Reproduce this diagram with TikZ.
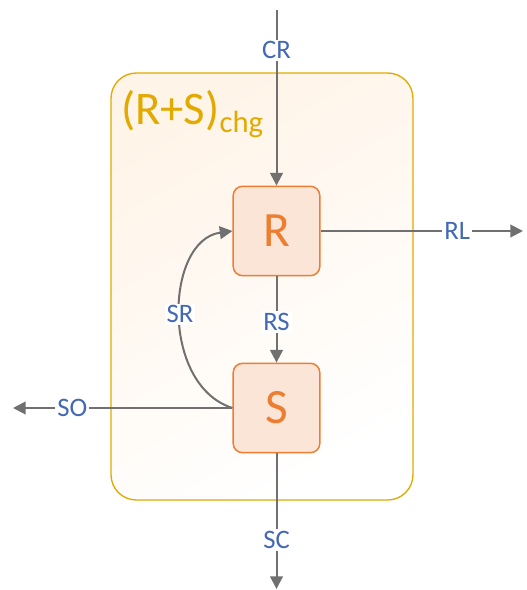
\documentclass[tikz,border=0pt]{standalone}
\usepackage{fontspec}
\setmainfont{Carlito}
\usetikzlibrary{arrows.meta}

\definecolor{flowgray}{RGB}{112,112,112}
\definecolor{flowblue}{RGB}{68,104,180}
\definecolor{poolgold}{RGB}{226,170,0}
\definecolor{poolfill}{RGB}{255,244,232}
\definecolor{stockline}{RGB}{237,125,49}
\definecolor{stockfill}{RGB}{251,229,214}

\begin{document}
\begin{tikzpicture}[x=0.75pt,y=-0.75pt,
  stock/.style={draw=stockline,fill=stockfill,line width=1.1pt,rounded corners=7pt,
    minimum width=65pt,minimum height=67pt,text=stockline,font=\fontsize{37}{40}\selectfont},
  flow/.style={draw=flowgray,line width=1.5pt,-{Triangle[length=9.5pt,width=9.5pt]}},
  lab/.style={fill=white,text=flowblue,inner sep=1.5pt,font=\fontsize{20}{22}\selectfont}]
  \useasboundingbox (0,0) rectangle (526,590);
  % charge pool around both stocks
  \draw[poolgold,line width=1pt,rounded corners=19pt,top color=poolfill,bottom color=white,shading angle=30]
    (111,73) rectangle (413,500);
  \node[anchor=base west,inner sep=0pt,text=poolgold,font=\fontsize{35}{38}\selectfont] (pool) at (121,124)
    {(R+S)\raisebox{-6.5pt}{\fontsize{23}{24}\selectfont chg}};
  \node[stock] (R) at (276.5,231) {R};
  \node[stock] (S) at (276.5,408) {S};
  \coordinate (crin) at (276.5,10);
  \coordinate (rlout) at (523,231);
  \coordinate (soout) at (13,408);
  \coordinate (scout) at (276.5,589);
  % flows
  \draw[flow] (crin) -- node[lab,pos=0.23] {CR} (R);
  \draw[flow] (R) -- node[lab,pos=0.53] {RS} (S);
  \draw[flow] (R.east) -- node[lab,pos=0.675] {RL} (rlout);
  \draw[flow] (S.west) -- node[lab,pos=0.73] {SO} (soout);
  \draw[flow] (S) -- node[lab,pos=0.64] {SC} (scout);
  \draw[flow] (S.west) .. controls (160,385) and (165,240) .. node[lab,pos=0.5] {SR} (R.west);
\end{tikzpicture}
\end{document}
